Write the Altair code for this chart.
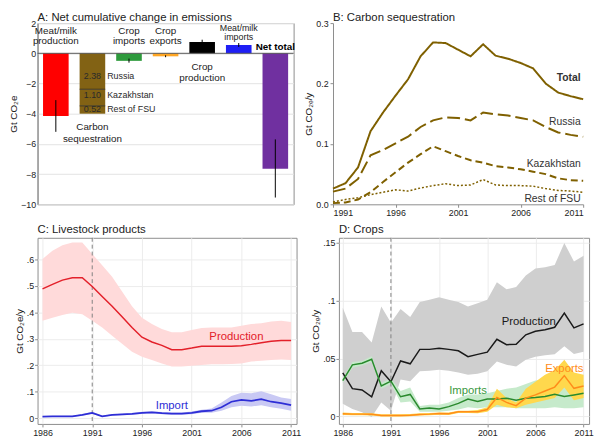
import altair as alt
import pandas as pd

FONT = "Liberation Sans"
TXT = "#222222"

# ---------------- Panel A data ----------------
cats = ["Meat/milk production", "Carbon sequestration", "Crop imports", "Crop exports",
        "Crop production", "Meat/milk imports", "Net total"]
cat_values = [-4.15, -4.00, -0.50, -0.20, 0.75, 0.55, -7.65]
cat_colors = ["#FF0000", "#826214", "#2E9A3C", "#FFA623", "#000000", "#1F1FF5", "#7030A0"]
err_lo = [-5.20, None, -0.62, -0.26, 0.60, 0.42, -9.55]
err_hi = [-3.10, None, -0.35, -0.13, 0.90, 0.68, -5.70]
seg_names = ["Russia", "Kazakhstan", "Rest of FSU"]
seg_values = [2.38, 1.10, 0.52]
seg_label_y = [-1.50, -2.75, -3.72]

# ---------------- Panel B data ----------------
years_B = [1991, 1992, 1993, 1994, 1995, 1996, 1997, 1998, 1999, 2000, 2001,
           2002, 2003, 2004, 2005, 2006, 2007, 2008, 2009, 2010, 2011]
B_total = [0.026, 0.035, 0.061, 0.121, 0.152, 0.180, 0.207, 0.245, 0.268, 0.267, 0.256,
           0.245, 0.265, 0.246, 0.241, 0.234, 0.225, 0.200, 0.185, 0.179, 0.174]
B_russia = [0.021, 0.026, 0.042, 0.081, 0.090, 0.101, 0.112, 0.128, 0.139, 0.144, 0.143,
            0.139, 0.152, 0.149, 0.147, 0.143, 0.139, 0.128, 0.119, 0.115, 0.112]
B_kaz = [0.002, 0.003, 0.008, 0.020, 0.037, 0.053, 0.069, 0.083, 0.096, 0.088, 0.080,
         0.073, 0.069, 0.063, 0.061, 0.058, 0.054, 0.050, 0.043, 0.040, 0.039]
B_rest = [0.004, 0.008, 0.011, 0.016, 0.020, 0.024, 0.022, 0.027, 0.031, 0.034, 0.031,
          0.032, 0.041, 0.032, 0.031, 0.031, 0.030, 0.026, 0.023, 0.022, 0.020]
B_names = ["Total", "Russia", "Kazakhstan", "Rest of FSU"]
B_label_y = [0.209, 0.136, 0.067, 0.009]

# ---------------- Panel C data ----------------
years_CD = [1986, 1987, 1988, 1989, 1990, 1991, 1992, 1993, 1994, 1995, 1996, 1997, 1998,
            1999, 2000, 2001, 2002, 2003, 2004, 2005, 2006, 2007, 2008, 2009, 2010, 2011]
C_prod = [0.489, 0.506, 0.522, 0.531, 0.531, 0.498, 0.460, 0.423, 0.383, 0.343, 0.306, 0.288, 0.275,
          0.259, 0.259, 0.265, 0.272, 0.272, 0.272, 0.272, 0.274, 0.279, 0.285, 0.291, 0.294, 0.294]
C_prod_hi = [0.602, 0.633, 0.654, 0.664, 0.664, 0.621, 0.578, 0.535, 0.479, 0.423, 0.380, 0.356, 0.337,
             0.325, 0.325, 0.333, 0.341, 0.343, 0.343, 0.343, 0.349, 0.356, 0.359, 0.365, 0.368, 0.364]
C_prod_lo = [0.368, 0.380, 0.390, 0.399, 0.393, 0.368, 0.343, 0.312, 0.281, 0.251, 0.232, 0.220, 0.207,
             0.195, 0.195, 0.198, 0.201, 0.204, 0.204, 0.205, 0.207, 0.214, 0.217, 0.220, 0.222, 0.220]
C_imp = [0.006, 0.007, 0.007, 0.007, 0.012, 0.020, 0.007, 0.012, 0.014, 0.016, 0.020, 0.022, 0.019,
         0.017, 0.017, 0.020, 0.026, 0.028, 0.041, 0.062, 0.069, 0.065, 0.072, 0.062, 0.057, 0.049]
C_imp_hi = [0.008, 0.009, 0.009, 0.009, 0.015, 0.024, 0.009, 0.015, 0.017, 0.019, 0.024, 0.026, 0.023,
            0.021, 0.021, 0.025, 0.032, 0.036, 0.059, 0.084, 0.096, 0.094, 0.102, 0.090, 0.078, 0.072]
C_imp_lo = [0.004, 0.005, 0.005, 0.005, 0.009, 0.016, 0.005, 0.009, 0.011, 0.013, 0.016, 0.018, 0.015,
            0.013, 0.013, 0.015, 0.020, 0.020, 0.028, 0.041, 0.047, 0.044, 0.049, 0.041, 0.035, 0.028]

# ---------------- Panel D data ----------------
D_prod = [0.0376, 0.0240, 0.0229, 0.0170, 0.0395, 0.0300, 0.0480, 0.0455, 0.0580, 0.0580, 0.0590, 0.0580, 0.0568,
          0.0517, 0.0537, 0.0556, 0.0667, 0.0621, 0.0624, 0.0706, 0.0737, 0.0749, 0.0771, 0.0893, 0.0766, 0.0800]
D_prod_hi = [0.094, 0.073, 0.073, 0.064, 0.095, 0.081, 0.093, 0.086, 0.099, 0.101, 0.103, 0.101, 0.099,
             0.095, 0.098, 0.101, 0.116, 0.110, 0.112, 0.122, 0.128, 0.129, 0.131, 0.150, 0.134, 0.139]
D_prod_lo = [0.0110, 0.0065, 0.0037, -0.0006, 0.0120, 0.0050, 0.0320, 0.0305, 0.0390, 0.0395, 0.0404, 0.0395, 0.0380,
             0.0360, 0.0370, 0.0390, 0.0475, 0.0446, 0.0432, 0.0490, 0.0517, 0.0530, 0.0537, 0.0607, 0.0540, 0.0560]
D_imp = [0.0310, 0.0446, 0.0460, 0.0494, 0.0263, 0.0305, 0.0170, 0.0190, 0.0065, 0.0073, 0.0065, 0.0085, 0.0113,
         0.0150, 0.0130, 0.0150, 0.0150, 0.0158, 0.0141, 0.0158, 0.0164, 0.0172, 0.0192, 0.0172, 0.0186, 0.0200]
D_imp_hi = [0.033, 0.047, 0.048, 0.052, 0.029, 0.033, 0.022, 0.025, 0.009, 0.010, 0.010, 0.012, 0.016,
            0.019, 0.019, 0.020, 0.022, 0.024, 0.025, 0.028, 0.031, 0.032, 0.034, 0.032, 0.031, 0.030]
D_imp_lo = [0.029, 0.042, 0.044, 0.047, 0.024, 0.028, 0.012, 0.013, 0.004, 0.004, 0.004, 0.005, 0.006,
            0.008, 0.007, 0.008, 0.008, 0.008, 0.007, 0.007, 0.007, 0.007, 0.008, 0.007, 0.007, 0.008]
D_exp = [0.0023, 0.0020, 0.0020, 0.0018, 0.0008, 0.0008, 0.0008, 0.0010, 0.0017, 0.0020, 0.0025, 0.0023, 0.0040,
         0.0040, 0.0040, 0.0060, 0.0164, 0.0121, 0.0093, 0.0158, 0.0186, 0.0220, 0.0254, 0.0353, 0.0243, 0.0263]
D_exp_hi = [0.0033, 0.0030, 0.0030, 0.0028, 0.0018, 0.0018, 0.0018, 0.0020, 0.0027, 0.0030, 0.0035, 0.0033, 0.0050,
            0.0050, 0.0055, 0.0080, 0.0240, 0.0160, 0.0120, 0.0240, 0.0300, 0.0360, 0.0400, 0.0490, 0.0380, 0.0360]
D_exp_lo = [0.0013, 0.0010, 0.0010, 0.0008, 0.0000, 0.0000, 0.0000, 0.0002, 0.0008, 0.0010, 0.0015, 0.0013, 0.0030,
            0.0030, 0.0028, 0.0040, 0.0100, 0.0080, 0.0070, 0.0100, 0.0120, 0.0140, 0.0160, 0.0250, 0.0140, 0.0160]

TITLE_FS = 11.5

def panel_title(t, off):
    return alt.TitleParams(t, anchor="start", frame="group", fontSize=TITLE_FS,
                           fontWeight="normal", color=TXT, offset=off)

# ================= Panel A =================
bar_cat, bar_y0, bar_y1, bar_key = [], [], [], []
for c, v in zip(cats, cat_values):
    if c == "Carbon sequestration":
        top = 0.0
        for n, s in zip(seg_names, seg_values):
            bar_cat.append(c); bar_y0.append(top); bar_y1.append(top - s); bar_key.append(n)
            top -= s
    else:
        bar_cat.append(c); bar_y0.append(0.0); bar_y1.append(v); bar_key.append(c)
dfA = pd.DataFrame({"cat": bar_cat, "y0": bar_y0, "y1": bar_y1, "key": bar_key})
key_domain = [k for k in cats if k != "Carbon sequestration"] + seg_names
key_range = [col for k, col in zip(cats, cat_colors) if k != "Carbon sequestration"] + [cat_colors[1]] * 3

sepA = pd.DataFrame({"cat": ["Carbon sequestration"] * 2,
                     "y": [-seg_values[0], -(seg_values[0] + seg_values[1])]})
errA = pd.DataFrame({"cat": [c for c, l in zip(cats, err_lo) if l is not None],
                     "lo": [l for l in err_lo if l is not None],
                     "hi": [h for h in err_hi if h is not None]})
zeroA = pd.DataFrame({"y": [0.0]})

xA = alt.Scale(domain=cats, paddingInner=0.3, paddingOuter=0.15)
yA = alt.Scale(domain=[-10, 2], nice=False)
axA = alt.Axis(values=[-10, -8, -6, -4, -2, 0, 2], title="Gt CO₂e", titleFontSize=10,
               titleFontWeight="normal", titleColor=TXT, labelFontSize=9, labelColor=TXT,
               ticks=False, labelPadding=2, titlePadding=2, grid=True, gridColor="#E3E3E3",
               domainColor="#8c8c8c")

def XA():
    return alt.X("cat:N", scale=xA, axis=None, sort=cats)

barsA = alt.Chart(dfA).mark_bar().encode(
    x=XA(), y=alt.Y("y0:Q", scale=yA, axis=axA), y2="y1:Q",
    color=alt.Color("key:N", scale=alt.Scale(domain=key_domain, range=key_range), legend=None))
zeroRule = alt.Chart(zeroA).mark_rule(color="#555555", strokeWidth=1).encode(
    y=alt.Y("y:Q", scale=yA, axis=axA))
sepTicks = alt.Chart(sepA).mark_tick(color="#1a1a1a", thickness=1, size=26).encode(
    x=XA(), y=alt.Y("y:Q", scale=yA, axis=axA))
errRules = alt.Chart(errA).mark_rule(color="#000000", strokeWidth=1).encode(
    x=XA(), y=alt.Y("lo:Q", scale=yA, axis=axA), y2="hi:Q")

labA = pd.DataFrame({
    "cat": ["Meat/milk production", "Meat/milk production", "Crop imports", "Crop imports",
            "Crop exports", "Crop exports", "Crop production", "Crop production",
            "Carbon sequestration", "Carbon sequestration"],
    "y": [1.50, 0.82, 1.50, 0.82, 1.50, 0.82, -0.90, -1.62, -4.88, -5.65],
    "t": ["Meat/milk", "production", "Crop", "imports", "Crop", "exports", "Crop", "production",
          "Carbon", "sequestration"]})
labA2 = pd.DataFrame({"cat": ["Meat/milk imports", "Meat/milk imports"], "y": [1.70, 1.05],
                      "t": ["Meat/milk", "imports"]})
labNet = pd.DataFrame({"cat": ["Net total"], "y": [0.42], "t": ["Net total"]})
segNum = pd.DataFrame({"cat": ["Carbon sequestration"] * 3, "y": seg_label_y,
                       "t": [f"{v:.2f}" for v in seg_values]})
segName = pd.DataFrame({"cat": ["Carbon sequestration"] * 3, "y": seg_label_y, "t": seg_names})

def textA(df, **kw):
    return alt.Chart(df).mark_text(baseline="middle", **kw).encode(
        x=XA(), y=alt.Y("y:Q", scale=yA, axis=axA), text="t:N")

A = alt.layer(
    barsA, zeroRule, sepTicks, errRules,
    textA(labA, fontSize=10, color=TXT),
    textA(labA2, fontSize=9, color=TXT),
    textA(labNet, fontSize=10, fontWeight="bold", color="#000000"),
    textA(segNum, fontSize=9, color="#2a2a2a"),
    textA(segName, fontSize=9, color="#2a2a2a", align="left", dx=15),
).properties(width=260, height=184,
             title=panel_title("A: Net cumulative change in emissions", -4),
             view=alt.ViewBackground(stroke="#8c8c8c"))

# ================= Panel B =================
BROWN = "#7F6000"
xB = alt.Scale(domain=[1991, 2011], nice=False)
yB = alt.Scale(domain=[0, 0.3], nice=False)
axBx = alt.Axis(values=[1991, 1996, 2001, 2006, 2011], format="d", title=None, labelFontSize=9,
                labelColor=TXT, tickSize=3, tickColor="#8c8c8c", domainColor="#8c8c8c", grid=False,
                labelPadding=1)
axBy = alt.Axis(values=[0, 0.1, 0.2, 0.3], format=".1f", title="Gt CO₂ₑ/y", titleFontSize=10,
                titleFontWeight="normal", titleColor=TXT, labelFontSize=9, labelColor=TXT,
                tickSize=3, tickColor="#8c8c8c", domainColor="#8c8c8c", grid=False,
                labelPadding=2, titlePadding=2)
B_series = [B_total, B_russia, B_kaz, B_rest]
B_dash = [[1, 0], [13, 5], [7, 4], [2, 2]]
B_width = [2.0, 2.0, 2.0, 1.5]
B_layers = []
for name, vals, dash, w in zip(B_names, B_series, B_dash, B_width):
    d = pd.DataFrame({"year": years_B, "v": vals})
    B_layers.append(alt.Chart(d).mark_line(color=BROWN, strokeWidth=w, strokeDash=dash).encode(
        x=alt.X("year:Q", scale=xB, axis=axBx), y=alt.Y("v:Q", scale=yB, axis=axBy)))
labB1 = pd.DataFrame({"x": [2010.8], "y": B_label_y[:1], "t": B_names[:1]})
labB2 = pd.DataFrame({"x": [2010.8] * 3, "y": B_label_y[1:], "t": B_names[1:]})
for dfl, fw in [(labB1, "bold"), (labB2, "normal")]:
    B_layers.append(alt.Chart(dfl).mark_text(align="right", baseline="middle", fontSize=10.5,
                                             fontWeight=fw, color="#333333").encode(
        x=alt.X("x:Q", scale=xB, axis=axBx), y=alt.Y("y:Q", scale=yB, axis=axBy), text="t:N"))
B = alt.layer(*B_layers).properties(
    width=254, height=184, title=panel_title("B: Carbon sequestration", -4),
    view=alt.ViewBackground(stroke="transparent"))

# ================= Panels C & D =================
def stata_axes(ytitle, yvals, yfmt):
    ax_x = alt.Axis(values=[1986, 1991, 1996, 2001, 2006, 2011], format="d", title=None,
                    labelFontSize=9, labelColor=TXT, tickSize=3, tickColor="#8c8c8c",
                    domain=False, grid=True, gridColor="#ECECEC", labelPadding=2)
    ax_y = alt.Axis(values=yvals, title=ytitle, titleFontSize=10, titleFontWeight="normal",
                    titleColor=TXT, labelFontSize=9, labelColor=TXT, tickSize=3,
                    tickColor="#8c8c8c", domain=False, grid=True, gridColor="#ECECEC",
                    labelExpr="datum.value == 0 ? '0' : replace(format(datum.value, '" + yfmt + "'), '0.', '.')",
                    labelPadding=1, titlePadding=2)
    return ax_x, ax_y

dfC = pd.DataFrame({"year": years_CD, "prod": C_prod, "plo": C_prod_lo, "phi": C_prod_hi,
                    "imp": C_imp, "ilo": C_imp_lo, "ihi": C_imp_hi})
xC = alt.Scale(domain=[1985.5, 2011.55], nice=False)
yC = alt.Scale(domain=[-0.022, 0.682], nice=False)
axCx, axCy = stata_axes("Gt CO₂e/y", [0, 0.1, 0.2, 0.3, 0.4, 0.5, 0.6], ".1f")
vline = pd.DataFrame({"x": [1991]})

def XC(f="year"):
    return alt.X(f + ":Q", scale=xC, axis=axCx)

def YC(f):
    return alt.Y(f + ":Q", scale=yC, axis=axCy)

labC_prod = pd.DataFrame({"x": [2005.5], "y": [0.306], "t": ["Production"]})
labC_imp = pd.DataFrame({"x": [1999.0], "y": [0.045], "t": ["Import"]})
C = alt.layer(
    alt.Chart(dfC).mark_area(color="#FFDADA", opacity=1).encode(x=XC(), y=YC("plo"), y2="phi:Q"),
    alt.Chart(dfC).mark_area(color="#C9C9F4", opacity=1).encode(x=XC(), y=YC("ilo"), y2="ihi:Q"),
    alt.Chart(vline).mark_rule(color="#808080", strokeDash=[4, 3], strokeWidth=1).encode(x=XC("x")),
    alt.Chart(dfC).mark_line(color="#E3202A", strokeWidth=1.5).encode(x=XC(), y=YC("prod")),
    alt.Chart(dfC).mark_line(color="#2E2ED6", strokeWidth=1.8).encode(x=XC(), y=YC("imp")),
    alt.Chart(labC_prod).mark_text(fontSize=11.5, baseline="middle", color="#E3202A").encode(
        x=XC("x"), y=YC("y"), text="t:N"),
    alt.Chart(labC_imp).mark_text(fontSize=11.5, baseline="middle", color="#2E2ED6").encode(
        x=XC("x"), y=YC("y"), text="t:N"),
).properties(width=263, height=189, title=panel_title("C: Livestock products", 2),
             view=alt.ViewBackground(stroke="#8c8c8c"))

dfD = pd.DataFrame({"year": years_CD, "prod": D_prod, "plo": D_prod_lo, "phi": D_prod_hi,
                    "imp": D_imp, "ilo": D_imp_lo, "ihi": D_imp_hi,
                    "exp": D_exp, "elo": D_exp_lo, "ehi": D_exp_hi})
xD = alt.Scale(domain=[1985.6, 2011.57], nice=False)
yD = alt.Scale(domain=[-0.0065, 0.1545], nice=False)
axDx, axDy = stata_axes("Gt CO₂ₑ/y", [0, 0.05, 0.1, 0.15], ".2~f")

def XD(f="year"):
    return alt.X(f + ":Q", scale=xD, axis=axDx)

def YD(f):
    return alt.Y(f + ":Q", scale=yD, axis=axDy)

labD_prod = pd.DataFrame({"x": [2005.3], "y": [0.0815], "t": ["Production"]})
labD_exp = pd.DataFrame({"x": [2009.0], "y": [0.041], "t": ["Exports"]})
labD_imp = pd.DataFrame({"x": [1999.0], "y": [0.022], "t": ["Imports"]})
D = alt.layer(
    alt.Chart(dfD).mark_area(color="#CFCFCF", opacity=1).encode(x=XD(), y=YD("plo"), y2="phi:Q"),
    alt.Chart(dfD).mark_area(color="#C6EACB", opacity=1).encode(x=XD(), y=YD("ilo"), y2="ihi:Q"),
    alt.Chart(dfD).mark_area(color="#FFD84D", opacity=1).encode(x=XD(), y=YD("elo"), y2="ehi:Q"),
    alt.Chart(vline).mark_rule(color="#808080", strokeDash=[4, 3], strokeWidth=1).encode(x=XD("x")),
    alt.Chart(dfD).mark_line(color="#1a1a1a", strokeWidth=1.5).encode(x=XD(), y=YD("prod")),
    alt.Chart(dfD).mark_line(color="#2A8A2E", strokeWidth=1.5).encode(x=XD(), y=YD("imp")),
    alt.Chart(dfD).mark_line(color="#FF8C1A", strokeWidth=1.5).encode(x=XD(), y=YD("exp")),
    alt.Chart(labD_prod).mark_text(fontSize=11.5, baseline="middle", color="#1a1a1a").encode(
        x=XD("x"), y=YD("y"), text="t:N"),
    alt.Chart(labD_exp).mark_text(fontSize=11.5, baseline="middle", color="#FF8C1A").encode(
        x=XD("x"), y=YD("y"), text="t:N"),
    alt.Chart(labD_imp).mark_text(fontSize=11.5, baseline="middle", color="#3A9A3E").encode(
        x=XD("x"), y=YD("y"), text="t:N"),
).properties(width=254, height=189, title=panel_title("D: Crops", 2),
             view=alt.ViewBackground(stroke="#8c8c8c"))

chart = alt.vconcat(
    alt.hconcat(A, B, spacing=7),
    alt.hconcat(C, D, spacing=8),
    spacing=5,
).properties(padding=0).configure(font=FONT)

chart.save("out.html", embed_options={"renderer": "svg", "actions": False})
